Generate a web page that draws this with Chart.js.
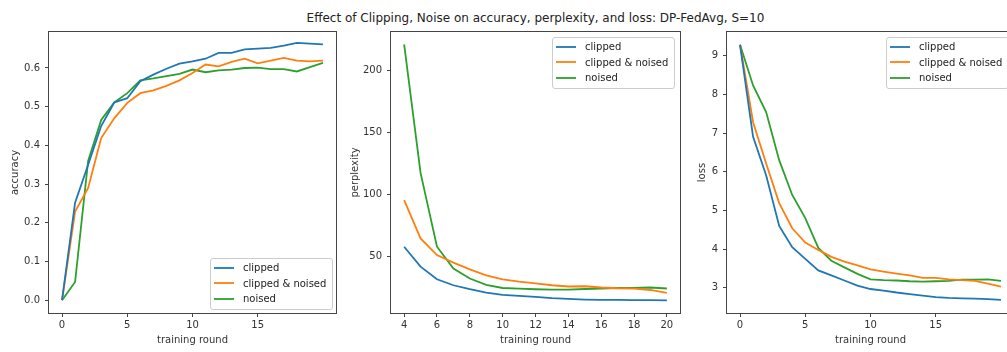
<!DOCTYPE html>
<html>
<head>
<meta charset="utf-8">
<script src="https://cdn.jsdelivr.net/npm/chart.js@4.4.1/dist/chart.umd.min.js"></script>
<style>
  html, body { margin: 0; padding: 0; background: #fff; overflow: hidden; width: 1007px; height: 352px; }
  body { position: relative; font-family: "DejaVu Sans", sans-serif; }
  canvas { position: absolute; left: 0; top: 0; }
  .suptitle { position: absolute; left: 0; top: 11px; width: 1071px; text-align: center; font-size: 12px; line-height: 14px; color: #222; white-space: nowrap; }
  .legend { position: absolute; background: rgba(255,255,255,0.8); border: 1px solid #ccc; border-radius: 3px; padding: 1px 6px 2px 3px; font-size: 10px; color: #222; }
  .legend-row { display: flex; align-items: center; height: 15.5px; white-space: nowrap; }
  .legend-line { display: inline-block; width: 20px; height: 2px; margin-right: 9px; opacity: 0.9; }
</style>
</head>
<body>
<div class="suptitle">Effect of Clipping, Noise on accuracy, perplexity, and loss: DP-FedAvg, S=10</div>
<canvas id="accChart" width="1030" height="352"></canvas>
<canvas id="pplChart" width="1030" height="352"></canvas>
<canvas id="lossChart" width="1030" height="352"></canvas>

<script>
const SERIES_LABELS = ["clipped", "clipped & noised", "noised"];
const SERIES_COLORS = ["#1f77b4", "#ff7f0e", "#2ca02c"];

// accuracy + loss share rounds 0..20, perplexity starts at round 4
const rounds = [0, 1, 2, 3, 4, 5, 6, 7, 8, 9, 10, 11, 12, 13, 14, 15, 16, 17, 18, 19, 20];
const pplRounds = [4, 5, 6, 7, 8, 9, 10, 11, 12, 13, 14, 15, 16, 17, 18, 19, 20];

const accClipped = [0, 0.252, 0.35, 0.45, 0.511, 0.522, 0.566, 0.583, 0.598, 0.611, 0.617, 0.624, 0.639, 0.639, 0.648, 0.650, 0.652, 0.658, 0.665, 0.663, 0.661];
const accClippedNoised = [0, 0.229, 0.29, 0.419, 0.47, 0.51, 0.535, 0.542, 0.554, 0.568, 0.587, 0.609, 0.604, 0.616, 0.624, 0.612, 0.619, 0.626, 0.619, 0.617, 0.619];
const accNoised = [0, 0.047, 0.36, 0.466, 0.511, 0.535, 0.568, 0.573, 0.579, 0.585, 0.596, 0.589, 0.594, 0.596, 0.6, 0.601, 0.597, 0.597, 0.591, 0.602, 0.613];

const pplClipped = [58, 42, 31.8, 27, 23.8, 21, 19.3, 18.4, 17.6, 16.6, 16, 15.5, 15.2, 15.2, 15.1, 15, 14.8];
const pplClippedNoised = [95.4, 64.7, 51.3, 45.2, 39.8, 35, 31.8, 30, 28.6, 27, 26, 26.2, 25.2, 24.6, 24.3, 23.2, 20.8];
const pplNoised = [220.7, 117.3, 58, 40.4, 32.4, 27.3, 24.8, 24.3, 23.8, 23.5, 23.5, 24, 24.4, 24.8, 24.8, 25.2, 24.4];

const lossClipped = [9.28, 6.9, 5.91, 4.6, 4.05, 3.75, 3.45, 3.32, 3.19, 3.06, 2.97, 2.93, 2.88, 2.84, 2.8, 2.76, 2.74, 2.73, 2.72, 2.71, 2.69];
const lossClippedNoised = [9.28, 7.28, 6.21, 5.19, 4.54, 4.17, 3.98, 3.8, 3.68, 3.58, 3.48, 3.42, 3.37, 3.32, 3.26, 3.26, 3.22, 3.2, 3.18, 3.11, 3.03];
const lossNoised = [9.28, 8.23, 7.54, 6.3, 5.4, 4.8, 4.03, 3.7, 3.53, 3.36, 3.22, 3.2, 3.19, 3.17, 3.16, 3.17, 3.18, 3.21, 3.21, 3.22, 3.18];

// tick labels
const roundTicks = [0, 5, 10, 15];
const pplRoundTicks = [4, 6, 8, 10, 12, 14, 16, 18, 20];
const accTicks = [0, 0.1, 0.2, 0.3, 0.4, 0.5, 0.6];
const pplTicks = [50, 100, 150, 200];
const lossTicks = [3, 4, 5, 6, 7, 8, 9];

const CANVAS_W = 1030;
const AXIS_COLOR = "#444";
const TEXT_COLOR = "#333";

Chart.defaults.font.family = "'DejaVu Sans', sans-serif";
Chart.defaults.font.size = 10;
Chart.defaults.color = TEXT_COLOR;

// matplotlib style box around the plot area
const framePlugin = {
  id: "frame",
  afterDatasetsDraw(chart) {
    const a = chart.chartArea;
    const ctx = chart.ctx;
    ctx.save();
    ctx.strokeStyle = AXIS_COLOR;
    ctx.lineWidth = 1;
    ctx.strokeRect(Math.round(a.left) - 0.5, Math.round(a.top) - 0.5, Math.round(a.right - a.left) + 1, Math.round(a.bottom - a.top) + 1);
    ctx.restore();
  }
};

function buildChart(id, cfg) {
  const datasets = cfg.series.map((values, i) => ({
    label: SERIES_LABELS[i],
    data: cfg.xs.map((x, j) => ({ x: x, y: values[j] })),
    borderColor: SERIES_COLORS[i],
    backgroundColor: SERIES_COLORS[i],
    borderWidth: 1.8,
    pointRadius: 0,
    tension: 0,
    fill: false
  }));

  const tickGrid = { drawOnChartArea: false, drawTicks: true, tickLength: 4, color: AXIS_COLOR };

  return new Chart(document.getElementById(id), {
    type: "line",
    data: { datasets: datasets },
    options: {
      responsive: false,
      animation: false,
      events: [],
      layout: { padding: { left: cfg.axisLeft, right: CANVAS_W - cfg.right, top: 32, bottom: 0 } },
      plugins: { legend: { display: false }, tooltip: { enabled: false } },
      scales: {
        x: {
          type: "linear",
          min: cfg.xMin,
          max: cfg.xMax,
          afterBuildTicks: s => { s.ticks = cfg.xTicks.map(v => ({ value: v })); },
          afterFit: s => { s.height = 39; },
          grid: tickGrid,
          border: { display: false },
          ticks: { padding: 2, maxRotation: 0, autoSkip: false, callback: v => String(v) },
          title: { display: true, text: "training round", color: TEXT_COLOR, padding: { top: 0, bottom: 6 } }
        },
        y: {
          type: "linear",
          min: cfg.yMin,
          max: cfg.yMax,
          afterBuildTicks: s => { s.ticks = cfg.yTicks.map(v => ({ value: v })); },
          afterFit: s => { s.width = cfg.left - cfg.axisLeft; },
          grid: tickGrid,
          border: { display: false },
          ticks: { padding: 5, autoSkip: false, callback: cfg.yFormat },
          title: { display: true, text: cfg.yTitle, color: TEXT_COLOR, padding: { top: 2, bottom: 0 } }
        }
      }
    },
    plugins: [framePlugin]
  });
}

function buildLegend(chart, left, top) {
  const box = document.createElement("div");
  box.className = "legend";
  box.style.left = left + "px";
  box.style.top = top + "px";
  chart.data.datasets.forEach(d => {
    const row = document.createElement("div");
    row.className = "legend-row";
    const line = document.createElement("span");
    line.className = "legend-line";
    line.style.background = d.borderColor;
    row.appendChild(line);
    row.appendChild(document.createTextNode(d.label));
    box.appendChild(row);
  });
  document.body.appendChild(box);
}

const accChart = buildChart("accChart", {
  xs: rounds,
  series: [accClipped, accClippedNoised, accNoised],
  axisLeft: 7, left: 49, right: 336,
  xMin: -1, xMax: 21, xTicks: roundTicks,
  yMin: -0.033, yMax: 0.693, yTicks: accTicks,
  yFormat: v => v.toFixed(1),
  yTitle: "accuracy"
});

const pplChart = buildChart("pplChart", {
  xs: pplRounds,
  series: [pplClipped, pplClippedNoised, pplNoised],
  axisLeft: 347, left: 391, right: 680,
  xMin: 3.2, xMax: 20.8, xTicks: pplRoundTicks,
  yMin: 4.7, yMax: 230.6, yTicks: pplTicks,
  yFormat: v => String(v),
  yTitle: "perplexity"
});

const lossChart = buildChart("lossChart", {
  xs: rounds,
  series: [lossClipped, lossClippedNoised, lossNoised],
  axisLeft: 694, left: 727, right: 1014,
  xMin: -1, xMax: 21, xTicks: roundTicks,
  yMin: 2.35, yMax: 9.61, yTicks: lossTicks,
  yFormat: v => String(v),
  yTitle: "loss"
});

buildLegend(accChart, 210, 258);
buildLegend(pplChart, 552, 37);
buildLegend(lossChart, 886, 37);
</script>
</body>
</html>
